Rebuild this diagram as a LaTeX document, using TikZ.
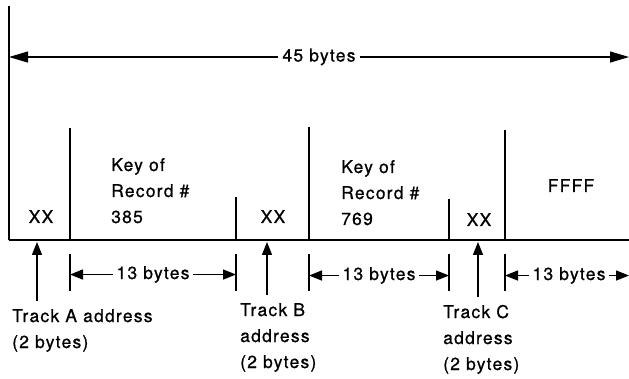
\documentclass[tikz,border=0pt]{standalone}
\usepackage{fontspec}
\setmainfont{TeX Gyre Heros}[LetterSpace=7,FakeBold=0.8]
\usetikzlibrary{arrows.meta,positioning}

\begin{document}
\begin{tikzpicture}[
    x=1pt, y=-1pt,
    label/.style={inner sep=0pt, font=\fontsize{17.5}{26}\selectfont},
    block/.style={label, anchor=base west, align=left},
    field/.style={line width=1.7pt},
    tick/.style={line width=1.5pt},
    dim/.style={line width=1.4pt, shorten <=3pt,
        -{Triangle[length=13pt,width=10pt]}},
    pointer/.style={dim, shorten <=8pt},
    span/.style={line width=1.2pt, shorten <=4pt,
        -{Triangle[length=19pt,width=11pt]}}
]
\useasboundingbox (0,0) rectangle (629,379);

% boundaries on the track line
\coordinate (b0) at (9,240);
\coordinate (b1) at (70,240);
\coordinate (b2) at (236,240);
\coordinate (b3) at (309,240);
\coordinate (b4) at (449,240);
\coordinate (b5) at (505,240);
\coordinate (bR) at (629,240);

\draw[line width=2.4pt] (b0) -- (bR);
\draw[field] (b0) -- ++(0,-234);
\draw[field] (b1) -- ++(0,-112);
\draw[field] (b2) -- ++(0,-43);
\draw[field] (b3) -- ++(0,-113);
\draw[field] (b4) -- ++(0,-41);
\draw[field] (b5) -- ++(0,-110);

% total length
\node[label, anchor=base] (total) at (319,61.5) {45 bytes};
\draw[span] (total.west) -- (total.west -| b0);
\draw[span] (total.east) -- (total.east -| bR);

% fields
\node[label, anchor=base] (xxA) at (41,223) {XX};
\node[block] (key1) at (111,223) {Key of\\Record \#\\385};
\node[label, anchor=base] (xxB) at (273,223) {XX};
\node[block] (key2) at (341,225) {Key of\\Record \#\\769};
\node[label, anchor=base] (xxC) at (479,226) {XX};
\node[label, anchor=base] (ffff) at (571,192) {FFFF};

% 13 byte keys
\node[label, anchor=base] (d1) at (153,279) {13 bytes};
\node[label, anchor=base] (d2) at (379,280) {13 bytes};
\node[label, anchor=base] (d3) at (569,280) {13 bytes};
\foreach \b in {b1,b2,b3,b4,b5}
    \draw[tick] (\b) ++(0,14) -- ++(0,37);
\draw[dim] (d1.west) -- (d1.west -| b1);
\draw[dim] (d1.east) -- (d1.east -| b2);
\draw[dim] (d2.west) -- (d2.west -| b3);
\draw[dim] (d2.east) -- (d2.east -| b4);
\draw[dim] (d3.west) -- (d3.west -| b5);
\draw[dim] (d3.east) -- (d3.east -| bR);

% track addresses
\coordinate (pA) at (37,242);
\coordinate (pB) at (267,242);
\coordinate (pC) at (478,242);
\node[block] (trackA) at (12,348) {Track A address\\(2 bytes)};
\node[block] (trackB) at (240,368) {Track B\\address\\(2 bytes)};
\node[block] (trackC) at (443,370) {Track C\\address\\(2 bytes)};
\draw[pointer] (pA |- trackA.north) -- (pA);
\draw[pointer] (pB |- trackB.north) -- (pB);
\draw[pointer] (pC |- trackC.north) -- (pC);
\end{tikzpicture}
\end{document}
